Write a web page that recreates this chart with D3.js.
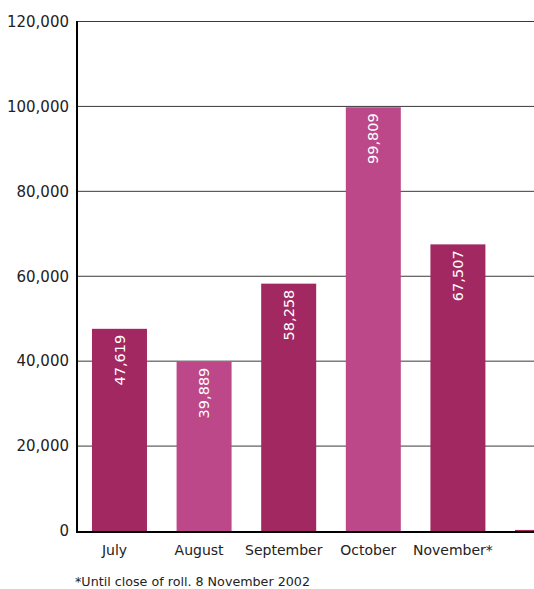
<!DOCTYPE html>
<html>
<head>
<meta charset="utf-8">
<script src="https://cdn.jsdelivr.net/npm/d3@7"></script>
<style>
  body { margin: 0; background: #fff; }
  svg { display: block; font-family: "DejaVu Sans", sans-serif; }
  .grid line { stroke: #3a3a3a; stroke-width: 1; }
</style>
</head>
<body>
<div id="chart"></div>
<script>
// monthly figures, last bar is cut off at the edge of the picture
var months = ["July", "August", "September", "October", "November*", "December"];
var monthLabels = ["July", "August", "September", "October", "November*", ""];
var counts = [47619, 39889, 58258, 99809, 67507, 250];
var barColors = ["#a12860", "#bc4889", "#a12860", "#bc4889", "#a12860", "#a12860"];
var yTicks = [0, 20000, 40000, 60000, 80000, 100000, 120000];
var footnote = "*Until close of roll. 8 November 2002";

var width = 534, height = 589;

var svg = d3.select("#chart").append("svg")
  .attr("width", width)
  .attr("height", height);

var xScale = d3.scaleBand()
  .domain(months)
  .range([77, 585])
  .paddingInner(0.35)
  .paddingOuter(0.177);

var yScale = d3.scaleLinear()
  .domain([0, 120000])
  .range([531, 21.5]);

// horizontal grid lines
svg.append("g")
  .attr("class", "grid")
  .selectAll("line")
  .data(yTicks.slice(1))
  .enter().append("line")
  .attr("x1", 77)
  .attr("x2", width)
  .attr("y1", function(d) { return yScale(d); })
  .attr("y2", function(d) { return yScale(d); });

// bars
svg.selectAll(".bar")
  .data(counts)
  .enter().append("rect")
  .attr("class", "bar")
  .attr("x", function(d, i) { return xScale(months[i]); })
  .attr("width", xScale.bandwidth())
  .attr("y", function(d) { return yScale(d); })
  .attr("height", function(d) { return yScale(0) - yScale(d); })
  .attr("fill", function(d, i) { return barColors[i]; });

// value labels, reading bottom to top inside the bars
svg.selectAll(".val")
  .data(counts.filter(function(d) { return d > 5000; }))
  .enter().append("text")
  .attr("class", "val")
  .attr("transform", function(d, i) {
    var cx = xScale(months[i]) + xScale.bandwidth() / 2;
    return "translate(" + cx + "," + (yScale(d) + 6) + ") rotate(-90)";
  })
  .attr("text-anchor", "end")
  .attr("dy", "0.35em")
  .attr("fill", "#fff")
  .style("font-size", "14.5px")
  .text(function(d) { return d3.format(",")(d); });

// y axis
var yAxis = svg.append("g")
  .attr("transform", "translate(77,0)")
  .call(d3.axisLeft(yScale).tickValues(yTicks).tickSize(0).tickPadding(8)
    .tickFormat(d3.format(",")));
yAxis.select(".domain").remove();
yAxis.selectAll("text")
  .attr("fill", "#222")
  .style("font-size", "15px")
  .style("font-family", "DejaVu Sans, sans-serif");

svg.append("line")
  .attr("x1", 77).attr("x2", 77)
  .attr("y1", yScale(120000) - 0.5).attr("y2", 533)
  .attr("stroke", "#000").attr("stroke-width", 2);

// x axis
var xAxis = svg.append("g")
  .attr("transform", "translate(0,532)")
  .call(d3.axisBottom(xScale).tickSize(0).tickPadding(13)
    .tickFormat(function(d, i) { return monthLabels[i]; }));
xAxis.select(".domain").remove();
xAxis.selectAll("text")
  .attr("fill", "#222")
  .attr("dx", "-5")
  .style("font-size", "14px")
  .style("font-family", "DejaVu Sans, sans-serif");

svg.append("line")
  .attr("x1", 76).attr("x2", width)
  .attr("y1", 532).attr("y2", 532)
  .attr("stroke", "#000").attr("stroke-width", 2);

// footnote
svg.append("text")
  .attr("x", 75)
  .attr("y", 586)
  .attr("fill", "#222")
  .style("font-size", "12.7px")
  .text(footnote);
</script>
</body>
</html>
